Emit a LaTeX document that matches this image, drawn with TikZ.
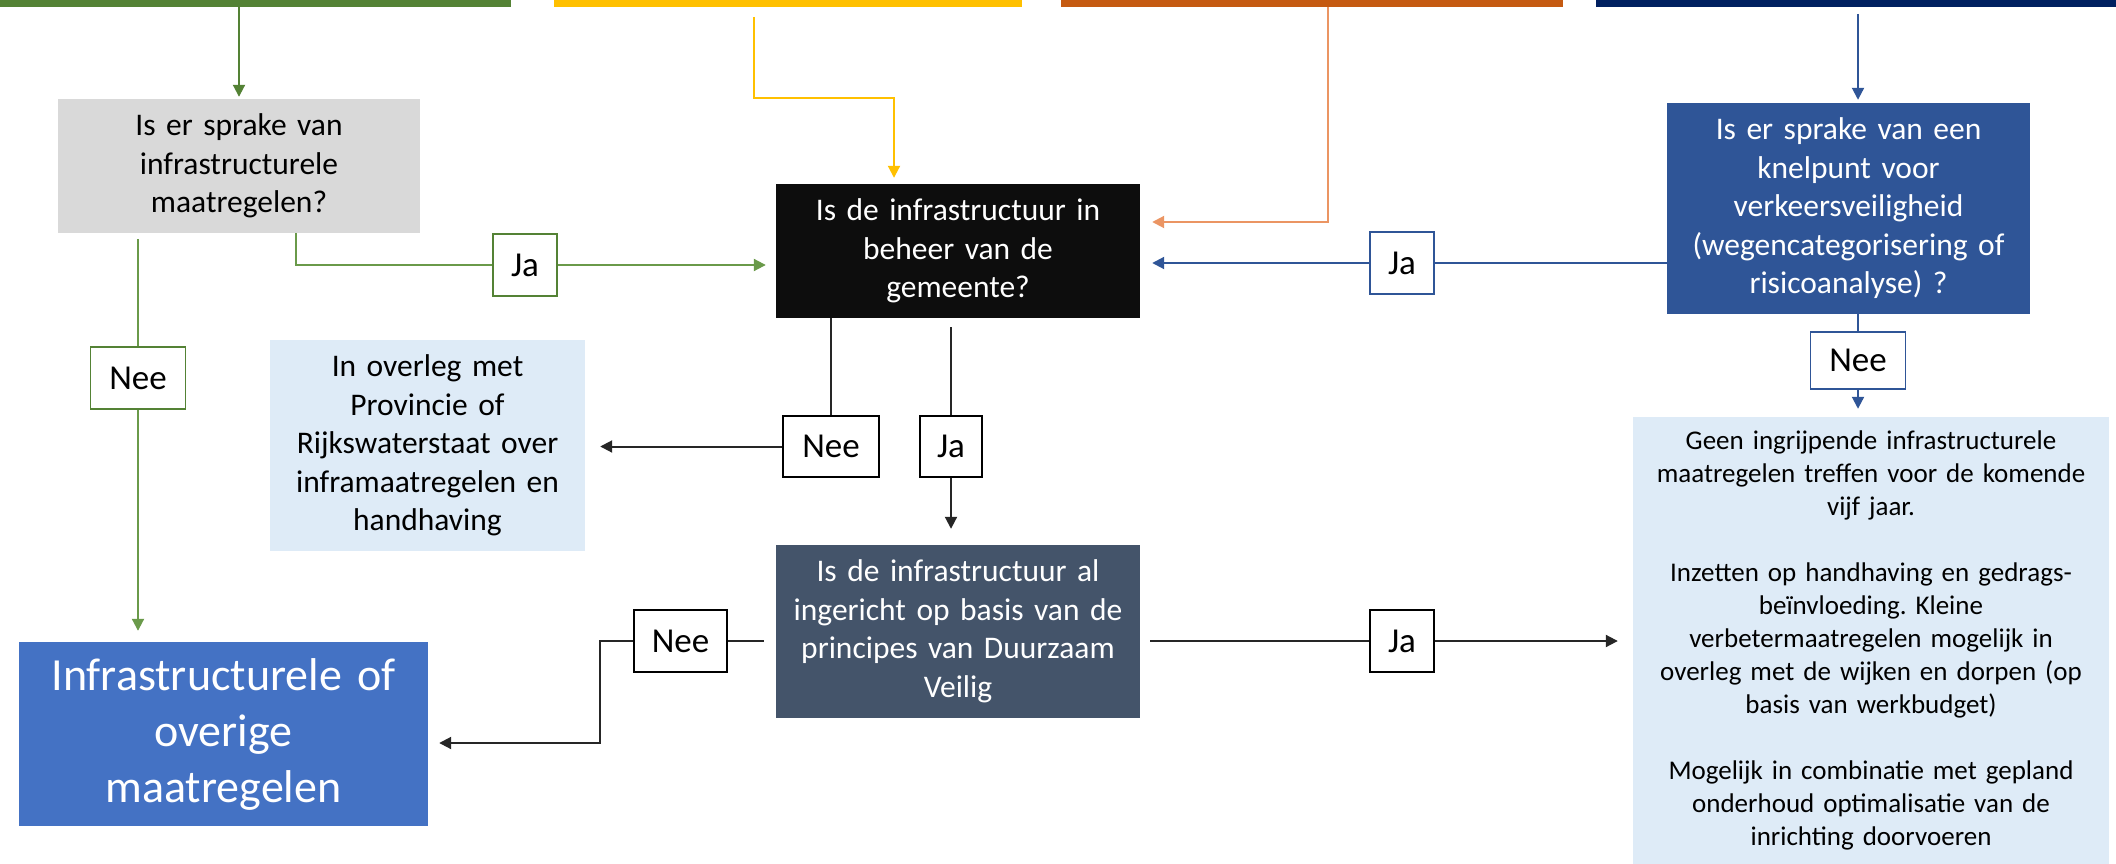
\documentclass[tikz,border=0pt]{standalone}
\usepackage{fontspec}
\setmainfont{Carlito}
\frenchspacing
\usetikzlibrary{arrows.meta,calc}
\definecolor{cgreen}{HTML}{548235}
\definecolor{cgreenl}{HTML}{6A9A4A}
\definecolor{cyellow}{HTML}{FFC000}
\definecolor{corange}{HTML}{C55A11}
\definecolor{corangel}{HTML}{EB9563}
\definecolor{cnavy}{HTML}{002060}
\definecolor{cblue}{HTML}{2F5597}
\definecolor{cgray}{HTML}{D9D9D9}
\definecolor{cblack}{HTML}{0D0D0D}
\definecolor{cslate}{HTML}{44546A}
\definecolor{cbig}{HTML}{4472C4}
\definecolor{clight}{HTML}{DEEBF7}
\definecolor{cline}{HTML}{262626}
\begin{document}
\begin{tikzpicture}[x=1pt,y=-1pt,
  bar/.style={inner sep=0pt, minimum height=7pt, anchor=north west},
  box/.style={inner sep=0pt, align=center, anchor=center, font=\fontsize{31.5}{38.5}\selectfont},
  lab/.style={draw, fill=white, line width=1.5pt, inner sep=0pt, minimum height=62pt, text=black, font=\fontsize{35}{40}\selectfont},
  con/.style={line width=2pt},
  arr/.style={line width=2pt, -{Triangle[length=12pt,width=12pt]}}
]
\useasboundingbox (0,0) rectangle (2116,864);

% top bars
\node[bar, fill=cgreen, minimum width=511pt] (barG) at (0,0) {};
\node[bar, fill=cyellow, minimum width=468pt] (barY) at (554,0) {};
\node[bar, fill=corange, minimum width=502pt] (barO) at (1061,0) {};
\node[bar, fill=cnavy, minimum width=520pt] (barN) at (1596,0) {};

% boxes
\node[box, fill=cgray, minimum width=362pt, minimum height=134pt, text width=358pt] (q1) at (239,166)
  {Is er sprake van\\ infrastructurele\\ maatregelen?};
\node[box, fill=cblack, text=white, minimum width=364pt, minimum height=134pt, text width=360pt] (q2) at (958,251)
  {Is de infrastructuur in\\ beheer van de\\ gemeente?};
\node[box, fill=cblue, text=white, minimum width=363pt, minimum height=211pt, text width=359pt] (q3) at (1848.5,208.5)
  {Is er sprake van een\\ knelpunt voor\\ verkeersveiligheid\\ (wegencategorisering of\\ risicoanalyse) ?};
\node[box, fill=clight, minimum width=315pt, minimum height=211pt, text width=311pt] (lb1) at (427.5,445.5)
  {In overleg met\\ Provincie of\\ Rijkswaterstaat over\\ inframaatregelen en\\ handhaving};
\node[box, fill=cslate, text=white, minimum width=364pt, minimum height=173pt, text width=360pt] (q4) at (958,631.5)
  {Is de infrastructuur al\\ ingericht op basis van de\\ principes van Duurzaam\\ Veilig};
\node[box, fill=cbig, text=white, minimum width=409pt, minimum height=184pt, text width=405pt,
  font=\fontsize{46}{56}\selectfont] (big) at (223.5,734)
  {Infrastructurele of\\ overige\\ maatregelen};
\node[box, fill=clight, minimum width=476pt, minimum height=447pt, text width=472pt,
  font=\fontsize{27}{33}\selectfont] (rb) at (1871,640.5)
  {Geen ingrijpende infrastructurele\\ maatregelen treffen voor de komende\\ vijf jaar.\\[33pt]
   Inzetten op handhaving en gedrags-\\ beïnvloeding. Kleine\\ verbetermaatregelen mogelijk in\\ overleg met de wijken en dorpen (op\\ basis van werkbudget)\\[33pt]
   Mogelijk in combinatie met gepland\\ onderhoud optimalisatie van de\\ inrichting doorvoeren};

% labels
\node[lab, draw=cgreen, minimum width=64pt] (JaG) at (525,265) {Ja};
\node[lab, draw=cgreen, minimum width=95pt] (NeeG) at (138,378) {Nee};
\node[lab, draw=cblue, minimum width=64pt] (JaB) at (1402,263) {Ja};
\node[lab, draw=cblue, minimum width=95pt, minimum height=57pt] (NeeB) at (1858,360.5) {Nee};
\node[lab, draw=black, minimum width=96pt, minimum height=61pt] (Nee1) at (831,446.5) {Nee};
\node[lab, draw=black, minimum width=62pt, minimum height=61pt] (Ja1) at (951,446.5) {Ja};
\node[lab, draw=black, minimum width=93pt] (Nee2) at (680.5,641) {Nee};
\node[lab, draw=black, minimum width=64pt] (Ja2) at (1402,641) {Ja};

% connectors from bars
\draw[arr, cgreen, shorten >=2pt] (barG.south -| q1.north) -- (q1.north);
\coordinate (yS) at (754,17);
\draw[arr, cyellow, shorten >=6pt] (yS) |- ++(140,81) -- ([xshift=-64pt]q2.north);
\coordinate (oS) at (1328,7);
\draw[arr, corangel, shorten >=12pt] (oS) |- ([yshift=29pt]q2.east);
\coordinate (nS) at (1858,14);
\draw[arr, cblue, shorten >=3pt] (nS) -- (nS |- q3.north);

% green decisions
\draw[con, cgreenl] ([xshift=57pt]q1.south) |- (JaG.west);
\draw[arr, cgreenl, shorten >=10pt] (JaG.east) -- (JaG.east -| q2.west);
\draw[con, cgreenl, shorten <=6pt] (NeeG.north |- q1.south) -- (NeeG.north);
\draw[arr, cgreenl, shorten >=11pt] (NeeG.south) -- (NeeG.south |- big.north);

% blue decisions
\draw[con, cblue] (JaB.east -| q3.west) -- (JaB.east);
\draw[arr, cblue, shorten >=12pt] (JaB.west) -- (JaB.west -| q2.east);
\draw[con, cblue] (NeeB.north |- q3.south) -- (NeeB.north);
\draw[arr, cblue, shorten >=8pt] (NeeB.south) -- (NeeB.south |- rb.north);

% black decisions
\draw[con, cline] (Nee1.north |- q2.south) -- (Nee1.north);
\draw[arr, cline, shorten >=15pt] (Nee1.west) -- (Nee1.west -| lb1.east);
\draw[con, cline, shorten <=9pt] (Ja1.north |- q2.south) -- (Ja1.north);
\draw[arr, cline, shorten >=16pt] (Ja1.south) -- (Ja1.south |- q4.north);
\draw[con, cline, shorten <=12pt] (Nee2.east -| q4.west) -- (Nee2.east);
\draw[arr, cline, shorten >=11pt] (Nee2.west) -- ++(-33,0) |- ([yshift=-9pt]big.east);
\draw[con, cline, shorten <=10pt] (Ja2.west -| q4.east) -- (Ja2.west);
\draw[arr, cline, shorten >=15pt] (Ja2.east) -- (Ja2.east -| rb.west);
\end{tikzpicture}
\end{document}
